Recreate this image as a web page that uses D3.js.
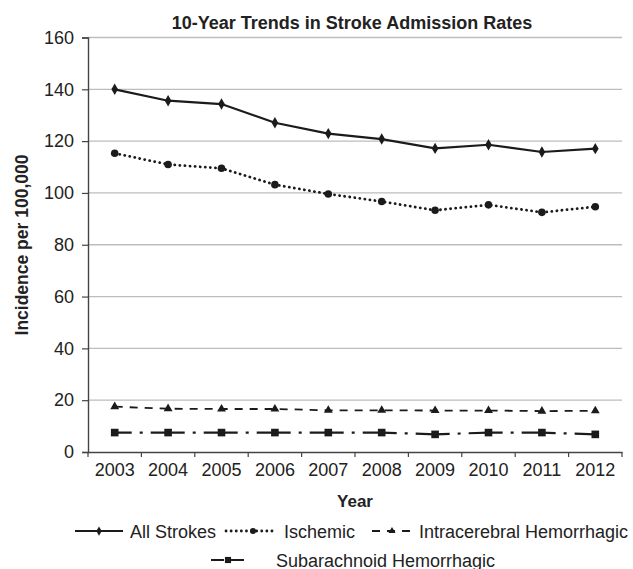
<!DOCTYPE html>
<html><head><meta charset="utf-8">
<script src="https://cdn.jsdelivr.net/npm/d3@7"></script>
<style>body{margin:0;background:#fff}svg{display:block}text{font-family:"Liberation Sans",Arial,sans-serif;fill:#222}</style>
</head><body>
<script>
const years = ["2003","2004","2005","2006","2007","2008","2009","2010","2011","2012"];
const allStrokes = [140, 135.6, 134.3, 127.1, 122.9, 120.8, 117.2, 118.6, 115.8, 117.1];
const ischemic = [115.3, 111, 109.5, 103.2, 99.6, 96.7, 93.3, 95.4, 92.5, 94.7];
const intracerebral = [17.5, 16.7, 16.6, 16.6, 16.1, 16.1, 16, 16, 15.8, 15.9];
const subarachnoid = [7.5, 7.5, 7.5, 7.5, 7.5, 7.5, 6.8, 7.5, 7.5, 6.8];
const yTicks = [0,20,40,60,80,100,120,140,160];
const seriesNames = ["All Strokes","Ischemic","Intracerebral Hemorrhagic","Subarachnoid Hemorrhagic"];

const W=633,H=569;
const m={left:88,right:11,top:37.5,bottom:117};
const svg=d3.select("body").append("svg").attr("width",W).attr("height",H);
const x=d3.scaleBand().domain(years).range([m.left,W-m.right]);
const y=d3.scaleLinear().domain([0,160]).range([H-m.bottom,m.top]);
const FS=18;

svg.append("g").selectAll("line").data(yTicks.filter(d=>d>0)).join("line")
  .attr("x1",m.left).attr("x2",W-m.right).attr("y1",d=>y(d)).attr("y2",d=>y(d))
  .attr("stroke","#bdbdbd").attr("stroke-width",1.3);

const ya=svg.append("g").attr("transform",`translate(${m.left},0)`)
  .call(d3.axisLeft(y).tickValues(yTicks).tickSize(6).tickPadding(8));
ya.select(".domain").attr("stroke","#444").attr("stroke-width",1.4);
ya.selectAll(".tick line").attr("stroke","#444").attr("stroke-width",1.2);
ya.selectAll("text").attr("font-size",FS).attr("fill","#222").style("font-family","Liberation Sans, Arial");

const xa=svg.append("g").attr("transform",`translate(0,${y(0)})`)
  .call(d3.axisBottom(x).tickSize(0).tickPadding(11));
xa.select(".domain").attr("stroke","#444").attr("stroke-width",1.4);
xa.selectAll("text").attr("font-size",FS).attr("fill","#222").style("font-family","Liberation Sans, Arial");
const bounds=years.map(d=>x(d)).concat([x(years[years.length-1])+x.bandwidth()]);
svg.append("g").selectAll("line").data(bounds).join("line")
  .attr("x1",d=>d).attr("x2",d=>d).attr("y1",y(0)).attr("y2",y(0)+5)
  .attr("stroke","#444").attr("stroke-width",1.2);

const cx=d=>x(d)+x.bandwidth()/2;
const ink="#1b1b1b";
const styles=[
  {vals:allStrokes,dash:null,off:0,w:2.2,sym:d3.symbolDiamond,size:38,cap:"butt"},
  {vals:ischemic,dash:"0.1,5",off:0,w:2.8,sym:d3.symbolCircle,size:45,cap:"round"},
  {vals:intracerebral,dash:"8,7",off:0,w:1.8,sym:d3.symbolTriangle,size:34,cap:"butt"},
  {vals:subarachnoid,dash:"34,8,3,8",off:17,w:2.2,sym:d3.symbolSquare,size:58,cap:"butt"}
];
const line=d3.line().x((d,i)=>cx(years[i])).y(d=>y(d));
styles.forEach(s=>{
  svg.append("path").datum(s.vals).attr("d",line).attr("fill","none")
    .attr("stroke",ink).attr("stroke-width",s.w).attr("stroke-dasharray",s.dash)
    .attr("stroke-dashoffset",s.off).attr("stroke-linecap",s.cap);
  svg.append("g").selectAll("path").data(s.vals).join("path")
    .attr("transform",(d,i)=>`translate(${cx(years[i])},${y(d)})`)
    .attr("d",d3.symbol().type(s.sym).size(s.size)).attr("fill",ink);
});

svg.append("text").attr("x",352).attr("y",29).attr("text-anchor","middle")
  .attr("font-size",FS).attr("font-weight","bold").text("10-Year Trends in Stroke Admission Rates");
svg.append("text").attr("x",355).attr("y",507).attr("text-anchor","middle")
  .attr("font-size",17).attr("font-weight","bold").text("Year");
svg.append("text").attr("transform","translate(28,245) rotate(-90)").attr("text-anchor","middle")
  .attr("font-size",17.5).attr("font-weight","bold").text("Incidence per 100,000");

const leg=[
  {x1:75,x2:123,mx:99,tx:130,ty:531},
  {x1:226,x2:273,mx:253,tx:284,ty:531},
  {x1:372,x2:410,mx:392,tx:419,ty:531},
  {x1:211,x2:250,mx:228,tx:276,ty:560}
];
leg.forEach((l,i)=>{
  const s=styles[i];
  const g=svg.append("g");
  const dash = i===3 ? "13,6,14" : s.dash;
  g.append("line").attr("x1",l.x1).attr("x2",l.x2).attr("y1",l.ty).attr("y2",l.ty)
    .attr("stroke",ink).attr("stroke-width",s.w).attr("stroke-dasharray",dash).attr("stroke-linecap",s.cap);
  g.append("path").attr("transform",`translate(${l.mx},${l.ty})`)
    .attr("d",d3.symbol().type(s.sym).size(s.size*0.65)).attr("fill",ink);
  g.append("text").attr("x",l.tx).attr("y",l.ty+6.5).attr("font-size",FS).text(seriesNames[i]);
});
</script>
</body></html>
